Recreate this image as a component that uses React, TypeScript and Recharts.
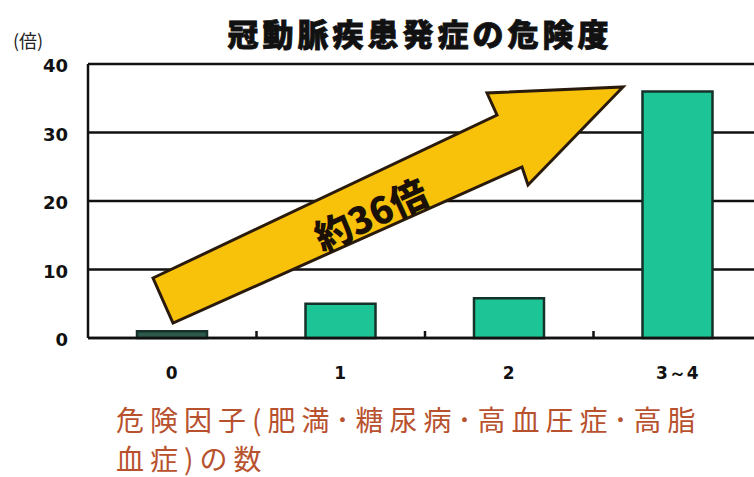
import React from "react";
import { BarChart, Bar, XAxis, YAxis, CartesianGrid, Cell } from "recharts";

const categories = ["0", "1", "2", "3～4"];
const riskValues = [1, 5, 5.8, 36];
const yTicks = [0, 10, 20, 30, 40];
const barFills = ["#2E5A4C", "#1DC596", "#1DC596", "#1DC596"];

const title = "冠動脈疾患発症の危険度";
const yUnit = "(倍)";
const xTitleLine1 = "危険因子(肥満･糖尿病･高血圧症･高脂";
const xTitleLine2 = "血症)の数";
const arrowLabel = "約36倍";

const data = categories.map((c, i) => ({ name: c, value: riskValues[i] }));

const CHART_W = 775;
const CHART_H = 477;
const PLOT_LEFT = 88;
const PLOT_RIGHT = 762;
const PLOT_TOP = 64;
const PLOT_BOTTOM = 338;
const Y_AXIS_W = 60;
const X_AXIS_H = 30;
const BAND = (PLOT_RIGHT - PLOT_LEFT) / categories.length;

const XTick = (props: any) => {
  const { x, y, payload, index } = props;
  return (
    <g>
      <text
        x={x}
        y={y + 41}
        textAnchor="middle"
        fontFamily="DejaVu Sans"
        fontWeight={900}
        fontSize={17}
        letterSpacing={1}
        fill="#111"
      >
        {payload.value}
      </text>
      {index < categories.length - 1 && (
        <line x1={x + BAND / 2} x2={x + BAND / 2} y1={y - 7} y2={y} stroke="#111" strokeWidth={2.5} />
      )}
    </g>
  );
};

const YTick = (props: any) => {
  const { x, y, payload } = props;
  return (
    <text
      x={x}
      y={y + 8}
      textAnchor="end"
      fontFamily="DejaVu Sans"
      fontWeight={900}
      fontSize={18}
      fill="#111"
    >
      {payload.value}
    </text>
  );
};

const arrowPts = [
  [153, 278],
  [497, 115],
  [487, 93],
  [623, 87],
  [528, 185],
  [522, 167],
  [173, 323],
];

export default function App() {
  return (
    <div
      style={{
        position: "absolute",
        left: 0,
        top: 0,
        width: 754,
        height: 477,
        overflow: "hidden",
        background: "#fff",
      }}
    >
      <div style={{ position: "absolute", left: 0, top: 0 }}>
        <BarChart
          width={CHART_W}
          height={CHART_H}
          data={data}
          margin={{
            top: PLOT_TOP,
            left: PLOT_LEFT - Y_AXIS_W,
            right: CHART_W - PLOT_RIGHT,
            bottom: CHART_H - PLOT_BOTTOM - X_AXIS_H,
          }}
        >
          <CartesianGrid vertical={false} stroke="#111" strokeWidth={2.5} />
          <XAxis
            dataKey="name"
            height={X_AXIS_H}
            axisLine={{ stroke: "#111", strokeWidth: 2.5 }}
            tickLine={false}
            tickSize={0}
            tickMargin={0}
            interval={0}
            tick={<XTick />}
          />
          <YAxis
            width={Y_AXIS_W}
            domain={[0, 40]}
            ticks={yTicks}
            interval={0}
            axisLine={{ stroke: "#111", strokeWidth: 2.5 }}
            tickLine={false}
            tickSize={0}
            tickMargin={20}
            tick={<YTick />}
          />
          <Bar
            dataKey="value"
            fill="#1DC596"
            stroke="#16302a"
            strokeWidth={2.5}
            barSize={70}
            isAnimationActive={false}
          >
            {data.map((d, i) => (
              <Cell key={d.name} fill={barFills[i]} />
            ))}
          </Bar>
        </BarChart>
      </div>
      <svg
        width={754}
        height={477}
        style={{ position: "absolute", left: 0, top: 0, pointerEvents: "none" }}
      >
        <text
          x={420}
          y={46}
          textAnchor="middle"
          fontFamily="Noto Sans CJK JP"
          fontWeight={900}
          fontSize={31}
          letterSpacing={4}
          fill="#111"
          stroke="#111"
          strokeWidth={0.8}
        >
          {title}
        </text>
        <text x={13} y={48} fontFamily="Noto Sans CJK JP" fontSize={18} fill="#222">
          {yUnit}
        </text>
        <polygon
          points={arrowPts.map((p) => p.join(",")).join(" ")}
          fill="#F8C10A"
          stroke="#2a1a0c"
          strokeWidth={3}
          strokeLinejoin="miter"
        />
        <text
          x={370}
          y={213}
          textAnchor="middle"
          dominantBaseline="central"
          transform="rotate(-24.5 370 213)"
          fontFamily="Noto Sans CJK JP"
          fontWeight={900}
          fontSize={37}
          fill="#1a1008"
        >
          {arrowLabel}
        </text>
        <text
          x={116}
          y={431}
          fontFamily="Noto Sans CJK JP"
          fontSize={28}
          letterSpacing={6}
          fill="#B8512E"
        >
          {xTitleLine1}
        </text>
        <text
          x={116}
          y={470}
          fontFamily="Noto Sans CJK JP"
          fontSize={28}
          letterSpacing={6}
          fill="#B8512E"
        >
          {xTitleLine2}
        </text>
      </svg>
    </div>
  );
}
